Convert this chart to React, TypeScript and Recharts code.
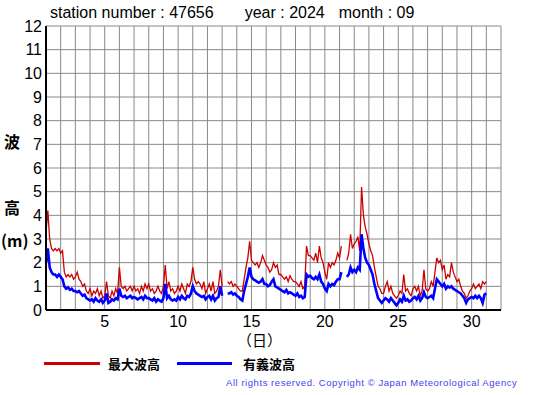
import React from 'react';
import { LineChart, Line, XAxis, YAxis, CartesianGrid } from 'recharts';

// 3-hourly samples from 1 Sep 00h to 1 Oct 00h (day 1.0 .. 31.0), x = day + hour/24
const maxWave: (number | null)[] = [
  3.3, 4.2, 3.0, 2.6, 2.5, 2.6, 2.5, 2.6,
  2.4, 2.5, 1.6, 1.4, 1.5, 1.4, 1.5, 1.3,
  1.4, 1.6, 1.3, 1.2, 1.0, 1.1, 0.8, 0.7,
  0.9, 0.6, 0.8, 0.7, 0.9, 0.6, 0.8, 0.5,
  0.6, 1.2, 0.6, 0.5, 0.8, 0.6, 0.9, 0.7,
  1.8, 1.0, 0.9, 1.0, 0.8, 0.9, 1.0, 0.8,
  1.0, 0.8, 0.9, 0.7, 1.0, 0.8, 1.1, 0.9,
  1.1, 0.8, 0.9, 0.7, 0.8, 1.0, 0.8, 0.7,
  1.0, 1.9, 0.9, 1.2, 0.8, 0.9, 0.7, 0.8,
  1.0, 0.8, 1.1, 0.9, 0.7, 1.1, 1.0, 1.2,
  1.8, 1.3, 1.1, 1.2, 1.1, 0.9, 1.2, 0.7,
  0.9, 1.1, 0.8, 1.2, 0.7, 0.8, 1.0, 1.7,
  1.0, null, null, 1.2, 1.1, 1.2, 1.0, 1.1,
  1.0, 0.9, 0.8, 0.8, 1.3, 1.8, 2.2, 2.9,
  2.1, 2.0, 1.9, 2.0, 1.8, 2.0, 2.3, 2.1,
  1.9, 1.8, 1.6, 1.7, 2.0, 1.8, 1.9, 1.5,
  1.5, 1.4, 1.3, 1.4, 1.2, 1.45, 1.3, 1.2,
  1.2, 1.1, 1.0, 1.2, 0.9, 1.0, 2.7, 2.3,
  2.3, 2.2, 2.1, 2.4, 2.0, 2.7, 2.2, 2.0,
  1.6, 1.3, 2.0, 1.8, 2.0, 1.9, 2.1, 2.4,
  2.2, 2.7, null, null, 2.1, 2.4, 3.2, 2.6,
  2.8, 2.9, 3.1, 2.5, 5.2, 4.0, 3.5, 3.2,
  2.8, 2.5, 2.3, 1.8, 1.4, 1.0, 0.9, 0.7,
  0.7, 1.0, 1.2, 0.8, 1.0, 0.7, 0.6, 0.5,
  0.6, 0.8, 0.7, 1.5, 0.8, 0.9, 0.7, 0.6,
  0.9, 1.0, 0.8, 1.0, 0.6, 0.8, 1.7, 0.9,
  0.8, 0.9, 1.2, 1.0, 1.6, 2.2, 2.0, 2.1,
  1.7, 1.9, 1.3, 1.5, 1.4, 2.0, 1.6, 1.4,
  1.2, 1.3, 1.0, 0.8, 0.7, 0.5, 0.6, 0.8,
  0.9, 1.1, 0.9, 1.0, 1.1, 0.9, 1.2, 1.1,
  1.2,
];

const sigWave: (number | null)[] = [
  2.0, 2.6, 1.8, 1.6, 1.5, 1.5, 1.4, 1.5,
  1.4, 1.3, 1.0, 0.9, 0.95, 0.85, 0.9, 0.8,
  0.8, 0.75, 0.8, 0.7, 0.6, 0.65, 0.5, 0.45,
  0.4, 0.45, 0.35, 0.5, 0.4, 0.35, 0.45, 0.3,
  0.4, 0.7, 0.3, 0.35, 0.45, 0.4, 0.5, 0.45,
  0.9, 0.6, 0.55, 0.6, 0.5, 0.55, 0.6, 0.5,
  0.55, 0.5, 0.45, 0.5, 0.55, 0.45, 0.6, 0.5,
  0.5, 0.45, 0.4, 0.5, 0.35, 0.45, 0.4, 0.35,
  0.5, 1.1, 0.5, 0.6, 0.45, 0.4, 0.45, 0.4,
  0.55, 0.45, 0.6, 0.5, 0.45, 0.6, 0.55, 0.7,
  1.0, 0.8, 0.7, 0.65, 0.6, 0.55, 0.6, 0.45,
  0.55, 0.6, 0.45, 0.6, 0.4, 0.5, 0.55, 1.0,
  0.6, null, null, 0.7, 0.7, 0.75, 0.65, 0.7,
  0.6, 0.55, 0.45, 0.4, 0.8, 1.1, 1.4, 1.8,
  1.4, 1.3, 1.25, 1.2, 1.15, 1.2, 1.3, 1.1,
  1.1, 1.0, 1.05, 1.2, 1.3, 1.0, 0.95, 0.9,
  0.85, 0.8, 0.75, 0.85, 0.7, 0.75, 0.7, 0.65,
  0.6, 0.7, 0.55, 0.6, 0.5, 0.55, 1.5, 1.4,
  1.45, 1.35, 1.3, 1.4, 1.3, 1.5, 1.2, 1.1,
  0.9, 0.8, 1.1, 1.0, 1.1, 1.05, 1.2, 1.3,
  1.3, 1.6, null, null, 1.4, 1.5, 1.8, 1.6,
  1.7, 1.6, 1.8, 1.7, 3.2, 2.6, 2.2, 2.0,
  1.9, 1.7, 1.5, 1.1, 0.8, 0.5, 0.4, 0.3,
  0.4, 0.5, 0.45, 0.35, 0.5, 0.4, 0.3, 0.2,
  0.3, 0.45, 0.35, 0.6, 0.4, 0.45, 0.35, 0.4,
  0.5, 0.55, 0.45, 0.6, 0.4, 0.5, 0.75, 0.55,
  0.5, 0.55, 0.6, 0.5, 0.9, 1.3, 1.2, 1.1,
  1.0, 1.1, 0.9, 1.0, 0.95, 1.0, 0.9, 0.85,
  0.8, 0.75, 0.7, 0.6, 0.5, 0.3, 0.45, 0.5,
  0.55, 0.5, 0.6, 0.5, 0.6, 0.5, 0.3, 0.65,
  0.7,
];

const SAMPLES_PER_DAY = 8;
const FIRST_DAY = 1;
const xTicks: number[] = Array.from({ length: 32 }, (_, i) => i + 1);
const xLabelDays = [5, 10, 15, 20, 25, 30];
const yTicks: number[] = Array.from({ length: 13 }, (_, i) => i);

const titleText = 'station number : 47656';
const yearText = 'year : 2024';
const monthText = 'month : 09';
const unitText = '(m)';
const maxLabel = '最大波高';
const sigLabel = '有義波高';
const copyright = 'All rights reserved. Copyright © Japan Meteorological Agency';

const data = maxWave.map((v, i) => ({
  x: FIRST_DAY + i / SAMPLES_PER_DAY,
  max: v,
  sig: sigWave[i],
}));

const FONT = '"Liberation Sans", Arial, sans-serif';
const JP = '"Noto Sans CJK JP", sans-serif';

export default function App() {
  return (
    <div style={{ position: 'absolute', left: 0, top: 0, width: 555, height: 395, background: '#fff', fontFamily: FONT }}>
      <LineChart width={555} height={395} data={data} margin={{ top: 26, right: 54, left: 0, bottom: 0 }}>
        <CartesianGrid stroke="#888" strokeWidth={1} />
        <XAxis
          dataKey="x"
          type="number"
          domain={[1, 32]}
          ticks={xTicks}
          interval={0}
          tickLine={false}
          axisLine={{ stroke: '#000', strokeWidth: 2 }}
          height={85}
          tickFormatter={(v: number) => (xLabelDays.includes(v) ? String(v) : '')}
          tick={{ fill: '#000', fontSize: 16, fontFamily: FONT }}
          tickSize={4}
          tickMargin={2}
        />
        <XAxis xAxisId="top" orientation="top" dataKey="x" type="number" domain={[1, 32]} tick={false} tickLine={false} height={0} axisLine={{ stroke: '#000', strokeWidth: 1 }} />
        <YAxis
          type="number"
          domain={[0, 12]}
          ticks={yTicks}
          interval={0}
          tickLine={false}
          width={46}
          axisLine={{ stroke: '#000', strokeWidth: 2 }}
          tick={{ fill: '#000', fontSize: 16, fontFamily: FONT }}
          tickSize={4}
          tickMargin={0}
        />
        <YAxis yAxisId="right" orientation="right" type="number" domain={[0, 12]} tick={false} tickLine={false} width={0} axisLine={{ stroke: '#000', strokeWidth: 1.5 }} />
        <Line dataKey="max" stroke="#cc0000" strokeWidth={1.3} dot={false} isAnimationActive={false} connectNulls={false} />
        <Line dataKey="sig" stroke="#0000ff" strokeWidth={2.6} dot={false} isAnimationActive={false} connectNulls={false} />
      </LineChart>

      <div style={{ position: 'absolute', left: 50, top: 4, fontSize: 16, whiteSpace: 'pre', color: '#000' }}>
        {titleText}
        <span style={{ marginLeft: 31 }}>{yearText}</span>
        <span style={{ marginLeft: 14 }}>{monthText}</span>
      </div>

      <div style={{ position: 'absolute', left: 4, top: 129, fontFamily: JP, fontSize: 16, fontWeight: 700 }}>波</div>
      <div style={{ position: 'absolute', left: 4, top: 195, fontFamily: JP, fontSize: 16, fontWeight: 700 }}>高</div>
      <div style={{ position: 'absolute', left: 1, top: 228, fontFamily: JP, fontSize: 16, fontWeight: 700, whiteSpace: 'pre' }}>{unitText}</div>
      <div style={{ position: 'absolute', left: 237, top: 329, fontFamily: JP, fontSize: 15 }}>（日）</div>

      <div style={{ position: 'absolute', left: 44, top: 362, width: 56, height: 3, background: '#cc0000' }} />
      <div style={{ position: 'absolute', left: 108, top: 354, fontFamily: JP, fontSize: 13, fontWeight: 700 }}>{maxLabel}</div>
      <div style={{ position: 'absolute', left: 177, top: 362, width: 55, height: 3, background: '#0000ff' }} />
      <div style={{ position: 'absolute', left: 243, top: 354, fontFamily: JP, fontSize: 13, fontWeight: 700 }}>{sigLabel}</div>

      <div style={{ position: 'absolute', left: 226, top: 377, fontSize: 9.5, letterSpacing: 0.55, color: '#4444ee', whiteSpace: 'pre' }}>{copyright}</div>
    </div>
  );
}
